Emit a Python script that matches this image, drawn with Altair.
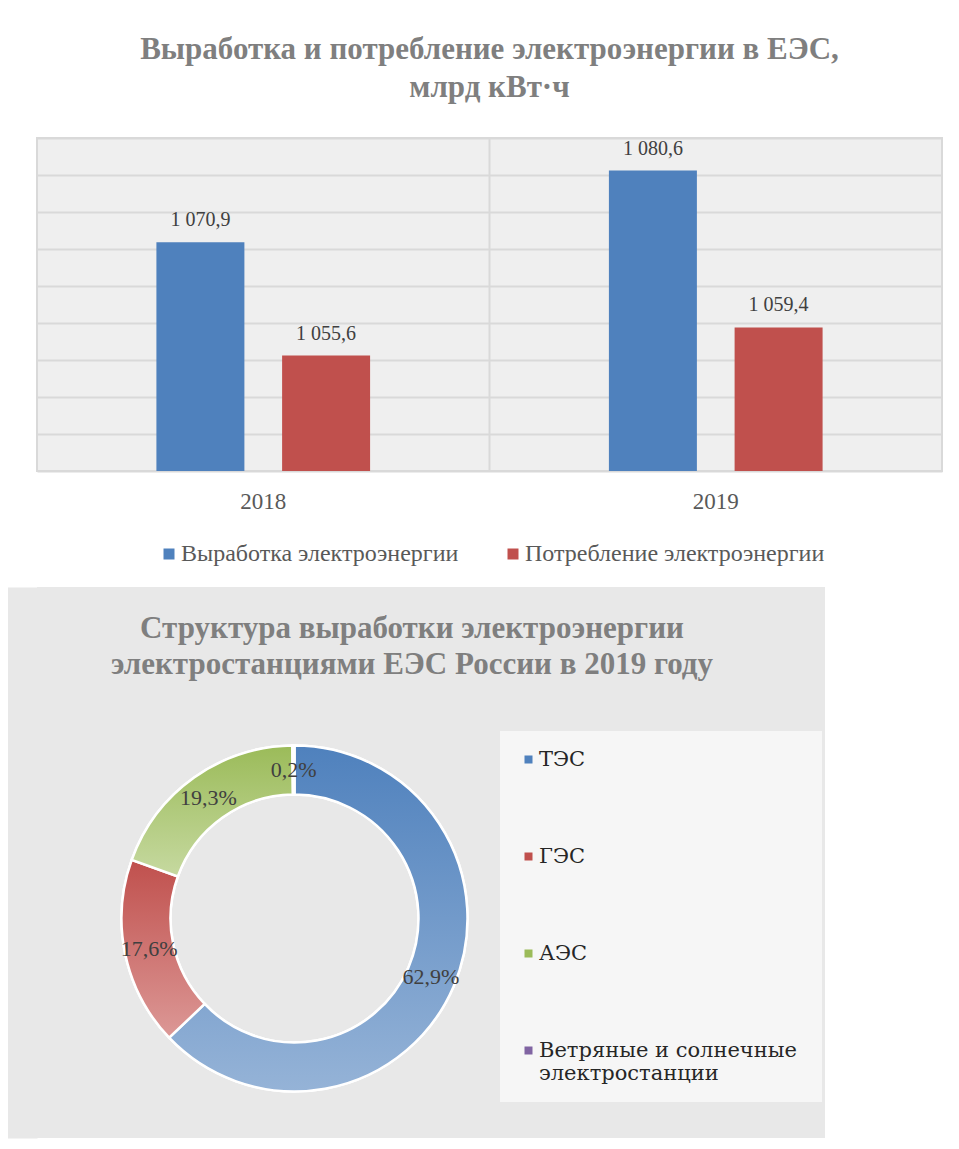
import math
import altair as alt
import pandas as pd

SERIF = "Liberation Serif"

# ---- data: top chart ----
years = ["2018", "2019"]
series = ["Выработка электроэнергии", "Потребление электроэнергии"]
generation = [1070.9, 1080.6]
consumption = [1055.6, 1059.4]
bar_colors = ["#4f81bd", "#c0504d"]

# ---- data: donut ----
sources = ["ТЭС", "ГЭС", "АЭС", "Ветряные и солнечные электростанции"]
shares = [62.9, 17.6, 19.3, 0.2]
src_colors = ["#4f81bd", "#c0504d", "#9bbb59", "#8064a2"]
grad_light = ["#95b3d7", "#dc9896", "#c6d9a0", "#8064a2"]

bar_df = pd.DataFrame({
    "year": years + years,
    "series": [series[0]] * len(years) + [series[1]] * len(years),
    "value": generation + consumption,
})
sep_df = pd.DataFrame({"year": years[1:]})
pie_df = pd.DataFrame({"source": sources, "share": shares, "order": list(range(len(sources)))})

HATCH = "#e8e8e8"

# ---------------- top chart ----------------
x_enc = alt.X(
    "year:N",
    sort=years,
    scale=alt.Scale(domain=years, paddingInner=0, paddingOuter=0),
    axis=alt.Axis(title=None, labelAngle=0, labelAlign="center", bandPosition=0.5,
                  labelFont=SERIF, labelFontSize=23,
                  labelColor="#595959", labelPadding=19, ticks=False, domain=False, grid=False),
)
xoff_enc = alt.XOffset("series:N", sort=series,
                       scale=alt.Scale(domain=series, paddingInner=0.3, paddingOuter=0.95))
y_enc = alt.Y(
    "value:Q",
    stack=None,
    scale=alt.Scale(domain=[1040, 1085], zero=False, nice=False),
    axis=alt.Axis(title=None, labels=False, ticks=False, domain=False,
                  values=list(range(1040, 1086, 5)), grid=True,
                  gridColor="#d9d9d9", gridWidth=2),
)

base = alt.Chart(bar_df)
bars = base.mark_bar().encode(
    x=x_enc,
    xOffset=xoff_enc,
    y=y_enc,
    color=alt.Color(
        "series:N",
        sort=series,
        scale=alt.Scale(domain=series, range=bar_colors),
        legend=alt.Legend(
            title=None, orient="none", legendX=120, legendY=404, direction="horizontal",
            labelFont=SERIF, labelFontSize=24, labelColor="#595959", symbolType="square",
            symbolSize=121, symbolStrokeWidth=0, labelOffset=0, columnPadding=42,
            padding=0, labelLimit=400,
        ),
    ),
)
bar_labels = base.transform_calculate(
    label="replace(replace(format(datum.value, ',.1f'), ',', ' '), '.', ',')"
).mark_text(baseline="alphabetic", dy=-16, font=SERIF, fontSize=20, color="#404040").encode(
    x=x_enc, xOffset=xoff_enc, y=y_enc, text="label:N"
)
sep = alt.Chart(sep_df).mark_rule(color="#d9d9d9", strokeWidth=2).encode(
    x=alt.X("year:N", sort=years, bandPosition=0,
            scale=alt.Scale(domain=years, paddingInner=0, paddingOuter=0))
)

top = alt.layer(bars, bar_labels, sep).properties(
    width=905,
    height=333,
    title=alt.TitleParams(
        text=["Выработка и потребление  электроэнергии  в ЕЭС,", "млрд кВт·ч"],
        font=SERIF, fontSize=31, fontWeight="bold", color="#7f7f7f",
        lineHeight=38, anchor="middle", offset=33,
    ),
    view=alt.ViewBackground(fill="#efefef", stroke="#d9d9d9", strokeWidth=2),
)

# ---------------- donut ----------------
theta_scale = alt.Scale(domain=[0, 100], range=[0, 2 * math.pi])
CX, CY = 257.5, 331.5

pie_base = alt.Chart(pie_df).transform_window(
    cum="sum(share)", sort=[alt.SortField("order")], frame=[None, 0]
).transform_calculate(
    start="datum.cum - datum.share",
    mid="datum.cum - datum.share / 2",
    label="replace(format(datum.share, '.1f'), '.', ',') + '%'",
)

arc_enc = dict(
    theta=alt.Theta("start:Q", scale=theta_scale),
    theta2="cum:Q",
    x=alt.value(CX),
    y=alt.value(CY),
)

arcs_plain = pie_base.mark_arc(outerRadius=173, innerRadius=124, stroke="white", strokeWidth=2.5).encode(
    color=alt.Color(
        "source:N",
        sort=sources,
        scale=alt.Scale(domain=sources, range=src_colors),
        legend=alt.Legend(
            title=None, orient="none", legendX=463, legendY=144, direction="vertical",
            labelFont="DejaVu Serif", labelFontSize=21, labelColor="#262626",
            symbolType="square", symbolSize=64, symbolStrokeWidth=0, labelOffset=0,
            rowPadding=75, padding=18, fillColor="#f6f6f6", labelLimit=400,
            labelExpr="indexof(datum.label, ' и ') > 0 ? ['Ветряные  и солнечные', 'электростанции'] : datum.label",
        ),
    ),
    **arc_enc,
)

grad_layers = []
for src, c0, c1 in zip(sources, src_colors, grad_light):
    grad = alt.LinearGradient(
        gradient="linear", x1=0, y1=0, x2=0, y2=1,
        stops=[alt.GradientStop(color=c0, offset=0), alt.GradientStop(color=c1, offset=1)],
    )
    grad_layers.append(
        pie_base.transform_filter(alt.datum.source == src)
        .mark_arc(outerRadius=173, innerRadius=124, stroke="white", strokeWidth=2.5, fill=grad)
        .encode(**arc_enc)
    )

pie_labels = pie_base.mark_text(radius=148.5, font=SERIF, fontSize=22, color="#404040").encode(
    theta=alt.Theta("mid:Q", scale=theta_scale),
    x=alt.value(CX),
    y=alt.value(CY),
    text="label:N",
)

# invisible layer carrying a left axis whose wide domain line extends the panel background
edge = alt.Chart(pie_df).mark_point(opacity=0).encode(
    y=alt.Y("share:Q", axis=alt.Axis(title=None, labels=False, ticks=False, grid=False,
                                      domain=True, domainColor=HATCH, domainWidth=58,
                                      domainCap="butt", offset=29))
)

bottom = alt.layer(edge, arcs_plain, *grad_layers, pie_labels).properties(
    width=788,
    height=551,
    title=alt.TitleParams(
        text=["Структура  выработки электроэнергии", "электростанциями ЕЭС  России в 2019 году"],
        font=SERIF, fontSize=31, fontWeight="bold", color="#7f7f7f",
        lineHeight=36, anchor="middle", baseline="alphabetic", offset=-118, dx=-19,
    ),
    view=alt.ViewBackground(fill=HATCH, strokeWidth=0),
)

chart = alt.concat(top, bottom, columns=1, spacing=20).properties(
    padding={"top": 25, "left": 0, "right": 0, "bottom": 0},
    background="white",
).resolve_scale(color="independent", theta="independent", y="independent")

chart.save("out.html", embed_options={"renderer": "svg", "actions": False})
